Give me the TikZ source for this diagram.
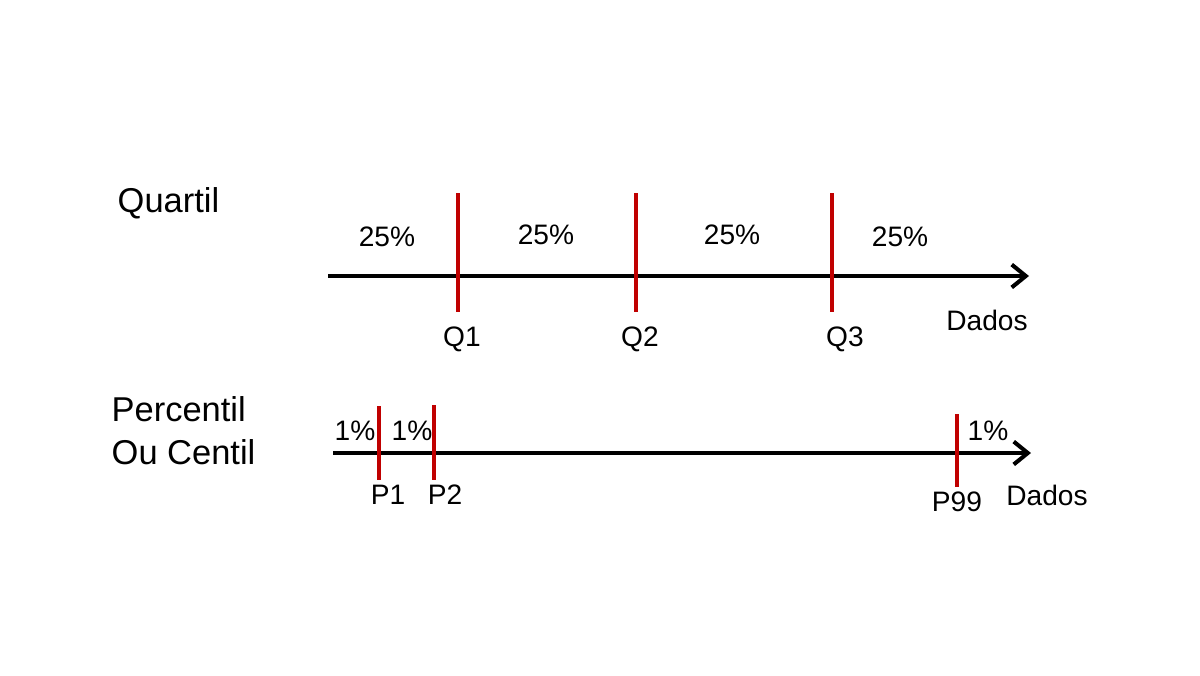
\documentclass[tikz,border=0pt]{standalone}
\usepackage{fontspec}
\setmainfont{Liberation Sans}
\definecolor{cutred}{HTML}{C00000}
\usetikzlibrary{arrows.meta}

\begin{document}
\begin{tikzpicture}[x=0.01cm, y=-0.01cm,
    axis/.style={line width=1.15pt, -{Straight Barb[length=4pt, width=6.5pt, line width=1.15pt]}},
    cut/.style={line width=0.9pt, cutred},
    lbl/.style={inner sep=0pt, font=\fontsize{8}{9.6}\selectfont},
    title/.style={inner sep=0pt, font=\fontsize{9.8}{13}\selectfont, align=left}]
  \useasboundingbox (0,0) rectangle (1200,675);
  % quartil
  \node[title, anchor=west] (tq) at (117,203) {Quartil};
  \coordinate (qa) at (328,276);
  \coordinate (qb) at (1029,276);
  \draw[axis] (qa) -- (qb);
  \coordinate (q1t) at (458,193); \coordinate (q1b) at (458,312);
  \coordinate (q2t) at (636,193); \coordinate (q2b) at (636,312);
  \coordinate (q3t) at (832,193); \coordinate (q3b) at (832,312);
  \draw[cut] (q1t) -- (q1b);
  \draw[cut] (q2t) -- (q2b);
  \draw[cut] (q3t) -- (q3b);
  \node[lbl] (pa) at (387,237) {25\%};
  \node[lbl] (pb) at (546,235) {25\%};
  \node[lbl] (pc) at (732,235) {25\%};
  \node[lbl] (pd) at (900,237) {25\%};
  \node[lbl] (q1) at (462,339) {Q1};
  \node[lbl] (q2) at (640,339) {Q2};
  \node[lbl] (q3) at (845,339) {Q3};
  \node[lbl] (dq) at (987,320) {Dados};
  % percentil
  \node[title, anchor=west] (tp1) at (111,409) {Percentil};
  \node[title, anchor=west] (tp2) at (111,452) {Ou Centil};
  \coordinate (pa0) at (333,453);
  \coordinate (pb0) at (1031,453);
  \draw[axis] (pa0) -- (pb0);
  \coordinate (p1t) at (379,406); \coordinate (p1b) at (379,480);
  \coordinate (p2t) at (434,405); \coordinate (p2b) at (434,480);
  \coordinate (p99t) at (957,414); \coordinate (p99b) at (957,487);
  \draw[cut] (p1t) -- (p1b);
  \draw[cut] (p2t) -- (p2b);
  \draw[cut] (p99t) -- (p99b);
  \node[lbl] (ua) at (355,431) {1\%};
  \node[lbl] (ub) at (412,431) {1\%};
  \node[lbl] (uc) at (988,431) {1\%};
  \node[lbl] (p1) at (388,495) {P1};
  \node[lbl] (p2) at (445,495) {P2};
  \node[lbl] (p99) at (957,502) {P99};
  \node[lbl] (dp) at (1047,495) {Dados};
\end{tikzpicture}
\end{document}
